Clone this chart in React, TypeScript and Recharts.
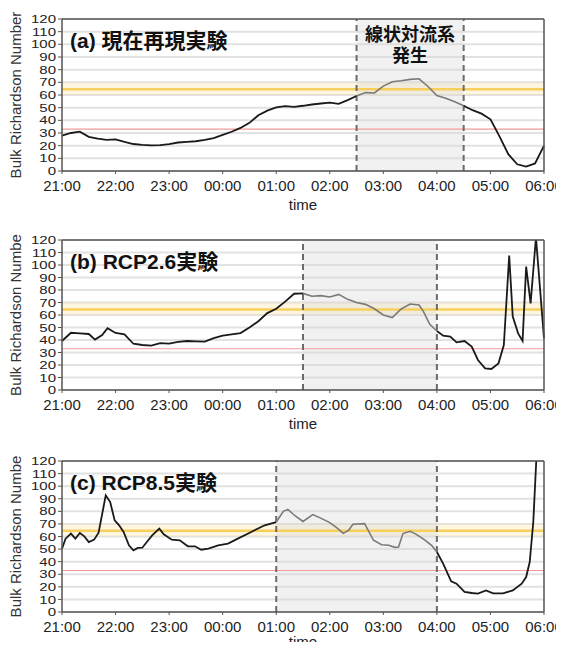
import {
  CartesianGrid,
  Line,
  LineChart,
  ReferenceArea,
  ReferenceLine,
  XAxis,
  YAxis,
} from "recharts"

const HOUR_TICKS = [0, 60, 120, 180, 240, 300, 360, 420, 480, 540]
const HOUR_LABELS = ["21:00", "22:00", "23:00", "00:00", "01:00", "02:00", "03:00", "04:00", "05:00", "06:00"]
const Y_TICKS = [0, 10, 20, 30, 40, 50, 60, 70, 80, 90, 100, 110, 120]

const RED_LEVEL = 33
const YELLOW_LEVEL = 64.5
const YELLOW_BAND = [60, 70]

// (a) minutes after 21:00
const aTime = [
  0, 10, 20, 30, 40, 50, 60, 70, 80, 90, 100, 110, 120, 130, 140, 150, 160, 170, 180, 190,
  200, 210, 220, 230, 240, 250, 260, 270, 280, 290, 300, 310, 320, 330, 340, 350, 360, 370,
  380, 390, 400, 410, 420, 430, 440, 450, 460, 470, 480, 490, 500, 510, 520, 530, 540,
]
const aValue = [
  28, 30, 31, 27, 25.5, 24.5, 25, 23, 21.3, 20.7, 20.3, 20.5, 21.3, 22.5, 23, 23.5, 24.5, 26,
  28.5, 31, 34, 38, 44, 47.7, 50.2, 51.2, 50.7, 51.5, 52.5, 53.3, 53.9, 53, 56, 59.2, 61.9,
  61.6, 67, 70.5, 71.2, 72.3, 72.8, 66.7, 59.5, 57.5, 54.7, 51.5, 48, 45.3, 40.8, 27.5, 13.3,
  5.3, 3.5, 6, 20,
]

// (b)
const bTime = [
  0, 10, 20, 30, 37, 45, 51, 60, 70, 80, 90, 100, 110, 120, 130, 140, 150, 160, 170, 180, 190,
  200, 210, 220, 230, 240, 250, 260, 270, 280, 290, 300, 310, 320, 330, 340, 350, 360, 370,
  380, 390, 400, 405, 412, 420, 427, 435, 442, 451, 459, 466, 474, 481, 489, 495, 501, 505,
  511, 516, 520, 525, 531, 540,
]
const bValue = [
  39.2, 45.8, 45.3, 44.8, 40.3, 44, 49.5, 45.6, 44.5, 37, 36, 35.5, 37.5, 37.1, 38.5, 39.2,
  38.9, 38.7, 41.5, 43.5, 44.5, 45.5, 50, 55, 61.5, 65, 70.7, 77, 77.3, 75, 75.5, 74.4, 76.5,
  72.5, 70, 68.5, 65, 60, 58, 64.8, 68.8, 68, 62.7, 52.5, 47.2, 43.5, 42.7, 38.1, 39.2, 34.7,
  24, 17.3, 16.8, 21.3, 36, 107.5, 58.7, 45.3, 39.2, 98.7, 69.3, 122, 41.3,
]

// (c)
const cTime = [
  0, 4, 10, 15, 20, 25, 30, 36, 41, 49, 54, 59, 64, 69, 75, 80, 85, 90, 95, 101, 109, 114, 123,
  132, 141, 149, 156, 164, 175, 186, 197, 212, 227, 240, 248, 253, 261, 270, 281, 291, 300,
  308, 315, 321, 326, 339, 349, 358, 366, 373, 377, 382, 390, 397, 407, 414, 420, 427, 436,
  442, 451, 459, 466, 475, 483, 494, 505, 515, 520, 524, 528, 532,
]
const cValue = [
  50.3, 58.3, 62.3, 58.3, 62.8, 60.1, 55.5, 57.5, 63, 92.7, 87.4, 72.8, 68.9, 63.6, 53, 49,
  50.9, 51.1, 55.6, 60.9, 66.2, 61.7, 57.5, 57, 52.2, 52.2, 49.5, 50.3, 53, 54.3, 58.3, 63.6,
  68.9, 71.5, 80, 81.6, 76.5, 72, 77.4, 74.2, 71, 66.8, 62.5, 64.9, 69.7, 70.2, 57, 53.5, 53,
  51.4, 51.7, 62.3, 64.1, 61.7, 57, 53, 47.7, 38.4, 24.4, 22.5, 15.9, 15.1, 14.6, 17.2, 14.8,
  14.8, 17.2, 22.5, 27.8, 39.7, 71.5, 130,
]

const FONT = '"Liberation Sans", Arial, sans-serif'
const TITLE_FONT = '"Liberation Sans", "Noto Sans CJK JP", sans-serif'
const AXIS = "#555"
const CHART_W = 584

function YTick({ x, y, payload }: any) {
  return (
    <text
      transform={`translate(${x},${y}) scale(1,0.76)`}
      textAnchor="end"
      dy="0.36em"
      fontSize={15}
      fill="#222"
      fontFamily={FONT}
    >
      {payload.value}
    </text>
  )
}

function Panel({
  top,
  plotH,
  axisH,
  timeOffset,
  times,
  values,
  region,
  title,
  yLabel,
  note,
}: {
  top: number
  plotH: number
  axisH: number
  timeOffset: number
  times: number[]
  values: number[]
  region: [number, number]
  title: string
  yLabel: string
  note?: boolean
}) {
  const [s, e] = region
  const data = times.map((t, i) => ({
    t,
    out: t <= s || t >= e ? values[i] : null,
    in: t >= s && t <= e ? values[i] : null,
  }))
  const height = 19 + plotH + axisH
  const regionMid = 62 + ((s + e) / 2 / 540) * 482

  return (
    <div style={{ position: "absolute", left: 0, top, width: CHART_W, height }}>
      <LineChart
        width={CHART_W}
        height={height}
        data={data}
        margin={{ top: 15, right: 36, left: 0, bottom: 0 }}
      >
        <CartesianGrid vertical={false} stroke="#e2e2e2" strokeWidth={2} />
        <ReferenceArea
          y1={YELLOW_BAND[0]}
          y2={YELLOW_BAND[1]}
          fill="#fbe3a0"
          fillOpacity={0.32}
          stroke="none"
        />
        <ReferenceArea x1={s} x2={e} fill="#d6d6d6" fillOpacity={0.35} stroke="none" />
        <ReferenceLine y={YELLOW_LEVEL} stroke="#f6cf5c" strokeWidth={2.5} />
        <ReferenceLine y={RED_LEVEL} stroke="#f39a9a" strokeWidth={1.2} />
        <ReferenceLine x={s} stroke="#6a6a6a" strokeWidth={2} strokeDasharray="6 4" />
        <ReferenceLine x={e} stroke="#6a6a6a" strokeWidth={2} strokeDasharray="6 4" />
        <XAxis
          dataKey="t"
          type="number"
          domain={[0, 540]}
          ticks={HOUR_TICKS}
          interval={0}
          tickFormatter={(v: number) => HOUR_LABELS[HOUR_TICKS.indexOf(v)]}
          height={axisH}
          tickSize={3}
          tickMargin={6}
          tick={{ fontSize: 15, fill: "#222", fontFamily: FONT }}
          axisLine={{ stroke: AXIS, strokeWidth: 1.5 }}
          tickLine={{ stroke: AXIS }}
          label={{
            value: "time",
            position: "insideTop",
            offset: timeOffset,
            style: { fontSize: 15, fill: "#222", fontFamily: FONT },
          }}
        />
        <XAxis
          xAxisId="top"
          orientation="top"
          type="number"
          domain={[0, 540]}
          allowDataOverflow
          ticks={HOUR_TICKS}
          height={4}
          tickSize={4}
          tick={false}
          axisLine={{ stroke: AXIS, strokeWidth: 1.5 }}
          tickLine={{ stroke: AXIS }}
        />
        <YAxis
          type="number"
          domain={[0, 120]}
          allowDataOverflow
          ticks={Y_TICKS}
          interval={0}
          width={62}
          tickSize={4}
          tick={<YTick />}
          axisLine={{ stroke: AXIS, strokeWidth: 1.5 }}
          tickLine={{ stroke: AXIS }}
          label={{
            value: yLabel,
            angle: -90,
            position: "center",
            dx: -15,
            style: { fontSize: 15, fill: "#333", fontFamily: FONT },
          }}
        />
        <YAxis
          yAxisId="r"
          orientation="right"
          type="number"
          domain={[0, 120]}
          allowDataOverflow
          ticks={Y_TICKS}
          interval={0}
          width={4}
          tickSize={4}
          tick={false}
          axisLine={{ stroke: AXIS, strokeWidth: 1.5 }}
          tickLine={{ stroke: AXIS }}
        />
        <Line
          type="linear"
          dataKey="out"
          stroke="#1a1a1a"
          strokeWidth={1.8}
          dot={false}
          isAnimationActive={false}
        />
        <Line
          type="linear"
          dataKey="in"
          stroke="#7a7a7a"
          strokeWidth={1.6}
          dot={false}
          isAnimationActive={false}
        />
      </LineChart>
      <div
        style={{
          position: "absolute",
          left: 70,
          top: 19 + 9,
          fontFamily: TITLE_FONT,
          fontWeight: 700,
          fontSize: 21,
          lineHeight: "26px",
          color: "#111",
          whiteSpace: "nowrap",
        }}
      >
        {title}
      </div>
      {note && (
        <div
          style={{
            position: "absolute",
            left: regionMid - 60,
            width: 120,
            top: 25,
            textAlign: "center",
            fontFamily: TITLE_FONT,
            fontWeight: 700,
            fontSize: 18,
            lineHeight: "21px",
            color: "#111",
          }}
        >
          線状対流系
          <br />
          発生
        </div>
      )}
    </div>
  )
}

export default function App() {
  return (
    <div
      style={{
        position: "relative",
        width: 564,
        height: 650,
        margin: -8,
        overflow: "hidden",
        background: "#fff",
      }}
    >
      <Panel
        top={0}
        plotH={152}
        axisH={44}
        timeOffset={28}
        times={aTime}
        values={aValue}
        region={[330, 450]}
        title="(a) 現在再現実験"
        yLabel="Bulk Richardson Number"
        note
      />
      <Panel
        top={221}
        plotH={150}
        axisH={44}
        timeOffset={28}
        times={bTime}
        values={bValue}
        region={[270, 420]}
        title="(b) RCP2.6実験"
        yLabel="Bulk Richardson Numbe"
      />
      <Panel
        top={442}
        plotH={151}
        axisH={38}
        timeOffset={24}
        times={cTime}
        values={cValue}
        region={[240, 420]}
        title="(c) RCP8.5実験"
        yLabel="Bulk Richardson Numbe"
      />
    </div>
  )
}
